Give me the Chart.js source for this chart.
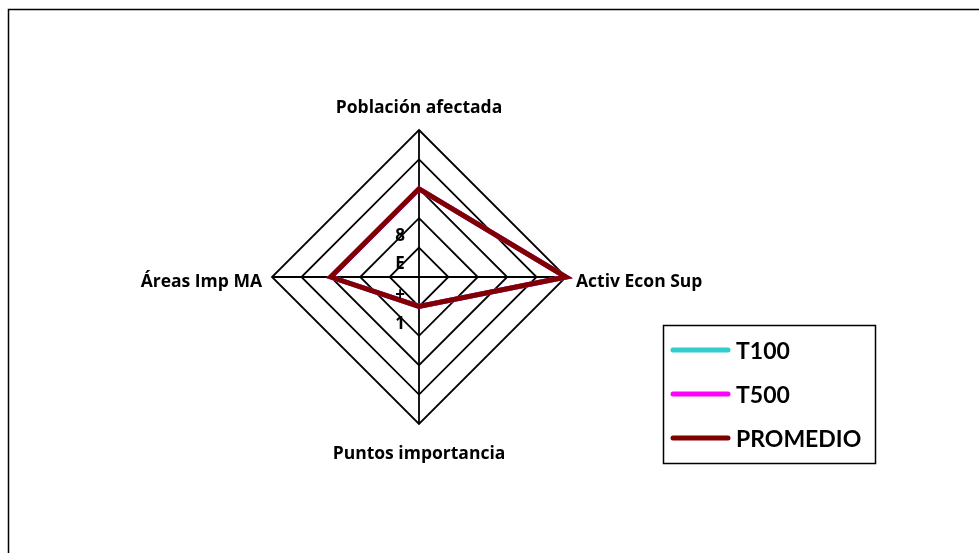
<!DOCTYPE html>
<html>
<head>
<meta charset="utf-8">
<script src="https://cdn.jsdelivr.net/npm/chart.js@4.4.0/dist/chart.umd.min.js"></script>
<style>
  html, body { margin: 0; padding: 0; background: #fff; }
  #wrap { width: 979px; height: 553px; position: relative; }
</style>
</head>
<body>
<div id="wrap"><canvas id="c"></canvas></div>
<script>
const categories = ['Población afectada', 'Activ Econ Sup', 'Puntos importancia', 'Áreas Imp MA'];
const t100 = [3, 5, 1, 3];
const t500 = [3, 5, 1, 3];
const promedio = [3, 5, 1, 3];
// the garbled axis value labels as they show in the picture
const tickText = ['8', 'E', '+', '1'];

const FONT = '"Open Sans", Lato, sans-serif';
const LEGEND_FONT = 'Lato, "Open Sans", sans-serif';

// outer frame of the chart object
const framePlugin = {
  id: 'frame',
  beforeDraw(chart) {
    const ctx = chart.ctx;
    ctx.save();
    ctx.strokeStyle = '#000';
    ctx.lineWidth = 1.5;
    ctx.beginPath();
    ctx.moveTo(8.5, chart.height + 5);
    ctx.lineTo(8.5, 9.5);
    ctx.lineTo(chart.width + 5, 9.5);
    ctx.stroke();
    ctx.restore();
  }
};

// category names and value labels around the radar
const labelsPlugin = {
  id: 'radarLabels',
  afterDraw(chart) {
    const scale = chart.scales.r;
    const ctx = chart.ctx;
    const r = scale.drawingArea;
    ctx.save();
    ctx.fillStyle = '#000';
    ctx.font = 'bold 17.5px ' + FONT;
    ctx.textBaseline = 'middle';
    const gaps = [22, 10, 30, 10];
    categories.forEach((name, i) => {
      const p = scale.getPointPosition(i, r + gaps[i]);
      if (i === 1) ctx.textAlign = 'left';
      else if (i === 3) ctx.textAlign = 'right';
      else ctx.textAlign = 'center';
      ctx.fillText(name, p.x, p.y + (i === 1 || i === 3 ? 5 : 0));
    });

    ctx.font = 'bold 17px ' + FONT;
    ctx.textAlign = 'center';
    const dy = [-41, -13, 18, 47];
    tickText.forEach((t, i) => {
      ctx.fillText(t, scale.xCenter - 19, scale.yCenter + dy[i]);
    });
    ctx.restore();
  }
};

// boxed legend on the right
const legendPlugin = {
  id: 'boxLegend',
  afterDraw(chart) {
    const ctx = chart.ctx;
    const x = 663, y = 325, w = 212, h = 138;
    ctx.save();
    ctx.fillStyle = '#fff';
    ctx.fillRect(x, y, w, h);
    ctx.strokeStyle = '#000';
    ctx.lineWidth = 1.5;
    ctx.strokeRect(x + 0.5, y + 0.5, w, h);
    ctx.font = 'bold 23px ' + LEGEND_FONT;
    ctx.textBaseline = 'middle';
    ctx.textAlign = 'left';
    chart.data.datasets.forEach((ds, i) => {
      const ly = y + 25 + i * 44;
      ctx.strokeStyle = ds.borderColor;
      ctx.lineWidth = 5;
      ctx.lineCap = 'round';
      ctx.beginPath();
      ctx.moveTo(x + 10, ly);
      ctx.lineTo(x + 65, ly);
      ctx.stroke();
      ctx.fillStyle = '#000';
      ctx.fillText(ds.label, x + 73, ly + 2);
    });
    ctx.restore();
  }
};

new Chart(document.getElementById('c'), {
  type: 'radar',
  data: {
    labels: categories,
    datasets: [
      { label: 'T100', data: t100, borderColor: '#33CCCC', borderWidth: 5, fill: false, pointRadius: 0, order: 2 },
      { label: 'T500', data: t500, borderColor: '#FF00FF', borderWidth: 5, fill: false, pointRadius: 0, order: 1 },
      { label: 'PROMEDIO', data: promedio, borderColor: '#800000', borderWidth: 5, fill: false, pointRadius: 0, order: 0 }
    ]
  },
  options: {
    responsive: true,
    maintainAspectRatio: false,
    animation: false,
    layout: { padding: { left: 272, right: 413, top: 130, bottom: 129 } },
    elements: { line: { tension: 0, borderJoinStyle: 'miter' } },
    scales: {
      r: {
        min: 0,
        max: 5,
        ticks: { stepSize: 1, display: false },
        grid: { color: '#000', lineWidth: 1.8 },
        angleLines: { color: '#000', lineWidth: 1.8 },
        pointLabels: { display: false }
      }
    },
    plugins: {
      legend: { display: false },
      tooltip: { enabled: false }
    }
  },
  plugins: [framePlugin, labelsPlugin, legendPlugin]
});
</script>
</body>
</html>
